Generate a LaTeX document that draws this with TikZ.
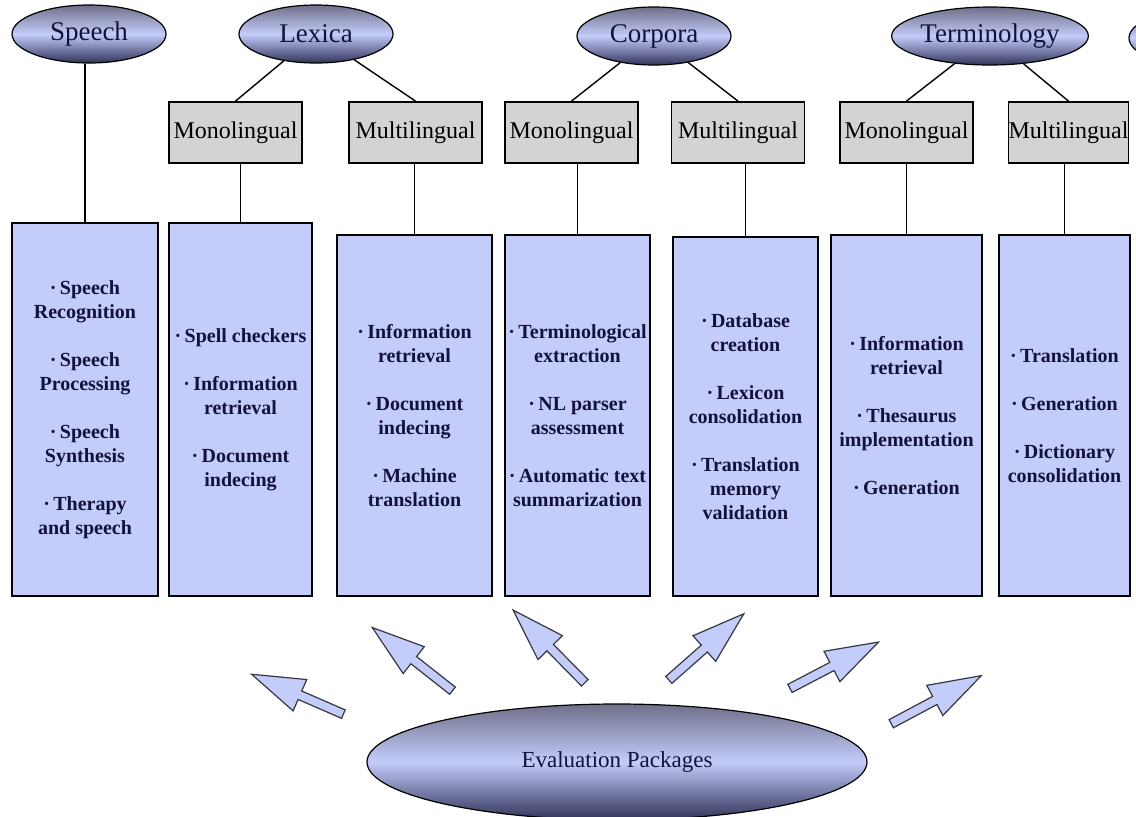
\documentclass[tikz,border=0pt]{standalone}
\usepackage{fontspec}
\setmainfont{Liberation Serif}
\usepackage{tikz}
\usetikzlibrary{shapes.geometric,shapes.arrows}

\definecolor{boxblue}{RGB}{196,204,250}
\definecolor{boxgray}{RGB}{211,211,211}
\definecolor{navy}{RGB}{18,18,58}
\definecolor{elldark}{RGB}{48,50,88}
\definecolor{arrline}{RGB}{55,55,65}
\newcommand{\itm}{·\,}

\begin{document}
\begin{tikzpicture}[x=0.5pt,y=-0.5pt,
    topic/.style={ellipse,draw=black,line width=0.6pt,top color=elldark!70,bottom color=elldark,middle color=boxblue,
      minimum width=77pt,minimum height=29pt,inner sep=0pt,text=navy,font=\fontsize{13.5}{16}\selectfont},
    lang/.style={rectangle,draw,line width=0.9pt,fill=boxgray,minimum width=66.5pt,minimum height=30.5pt,
      inner sep=0pt,font=\fontsize{12}{14}\selectfont},
    uses/.style={rectangle,draw,line width=0.9pt,fill=boxblue,anchor=north,minimum height=180.5pt,inner sep=0pt,
      align=center,text=navy,font=\bfseries\fontsize{10}{12}\selectfont},
    pack/.style={single arrow,draw=arrline,fill=boxblue,line width=0.6pt,inner sep=2pt,
      single arrow head extend=6.25pt,single arrow tip angle=36,minimum height=50pt}]
        \clip (0,0) rectangle (1136,816);
        % topics
        \node[topic] (sp) at (89,34) {Speech};
        \node[topic] (lx) at (316,34) {Lexica};
        \node[topic] (co) at (654,36) {Corpora};
        \node[topic] (te) at (990,36) {Terminology};
        \node[topic] (more) at (1206,38) {};
        % mono / multi
        \node[lang] (lxmo) at (235.5,132.5) {Monolingual};
        \node[lang] (lxmu) at (415.5,132.5) {Multilingual};
        \node[lang] (como) at (571.5,132.5) {Monolingual};
        \node[lang] (comu) at (738,132.5) {Multilingual};
        \node[lang] (temo) at (906.5,132.5) {Monolingual};
        \node[lang,minimum width=59.5pt] (temu) at (1068.5,132.5) {Multilingual};
        % applications
        \node[uses,minimum width=73pt,minimum height=186.5pt] (bsp) at (85,222)
          {\itm Speech\\Recognition\\[12pt]\itm Speech\\Processing\\[12pt]\itm Speech\\Synthesis\\[12pt]\itm Therapy\\and speech};
        \node[uses,minimum width=71.5pt,minimum height=186.5pt] (blxmo) at (240.5,222)
          {\itm Spell checkers\\[12pt]\itm Information\\retrieval\\[12pt]\itm Document\\indecing};
        \node[uses,minimum width=77.5pt] (blxmu) at (414.5,234)
          {\itm Information\\retrieval\\[12pt]\itm Document\\indecing\\[12pt]\itm Machine\\translation};
        \node[uses,minimum width=72.5pt] (bcomo) at (577.5,234)
          {\itm Terminological\\extraction\\[12pt]\itm NL parser\\assessment\\[12pt]\itm Automatic text\\summarization};
        \node[uses,minimum width=72.5pt,minimum height=179.5pt] (bcomu) at (745.5,236)
          {\itm Database\\creation\\[12pt]\itm Lexicon\\consolidation\\[12pt]\itm Translation\\memory\\validation};
        \node[uses,minimum width=75.5pt] (btemo) at (906.5,234)
          {\itm Information\\retrieval\\[12pt]\itm Thesaurus\\implementation\\[12pt]\itm Generation};
        \node[uses,minimum width=65.5pt] (btemu) at (1064.5,234)
          {\itm Translation\\[12pt]\itm Generation\\[12pt]\itm Dictionary\\consolidation};
        \path[draw,line width=0.7pt] (bsp.north) edge (bsp.north |- sp.south)
          (lx) edge (lxmo.north) (lx) edge (lxmu.north)
          (co) edge (como.north) (co) edge (comu.north)
          (te) edge (temo.north) (te) edge (temu.north)
          (blxmo.north) edge (blxmo.north |- lxmo.south) (blxmu.north) edge (blxmu.north |- lxmu.south)
          (bcomo.north) edge (bcomo.north |- como.south) (bcomu.north) edge (bcomu.north |- comu.south)
          (btemo.north) edge (btemo.north |- temo.south) (btemu.north) edge (btemu.north |- temu.south);
        % evaluation
        \node[topic,minimum width=250pt,minimum height=58pt,font=\fontsize{11.5}{14}\selectfont] (ev) at (617,762) {Evaluation Packages};
        \node[pack,rotate=156.5] (a1) at (304,697) {};
        \node[pack,rotate=141.8,minimum height=51pt] (a2) at (418,663.5) {};
        \node[pack,rotate=134.6,minimum height=51pt] (a3) at (554,651.5) {};
        \node[pack,rotate=41.4] (a4) at (701,651.5) {};
        \node[pack,rotate=27.6] (a5) at (828,668.5) {};
        \node[pack,rotate=28.1,minimum height=51pt] (a6) at (930,703) {};
\end{tikzpicture}
\end{document}
